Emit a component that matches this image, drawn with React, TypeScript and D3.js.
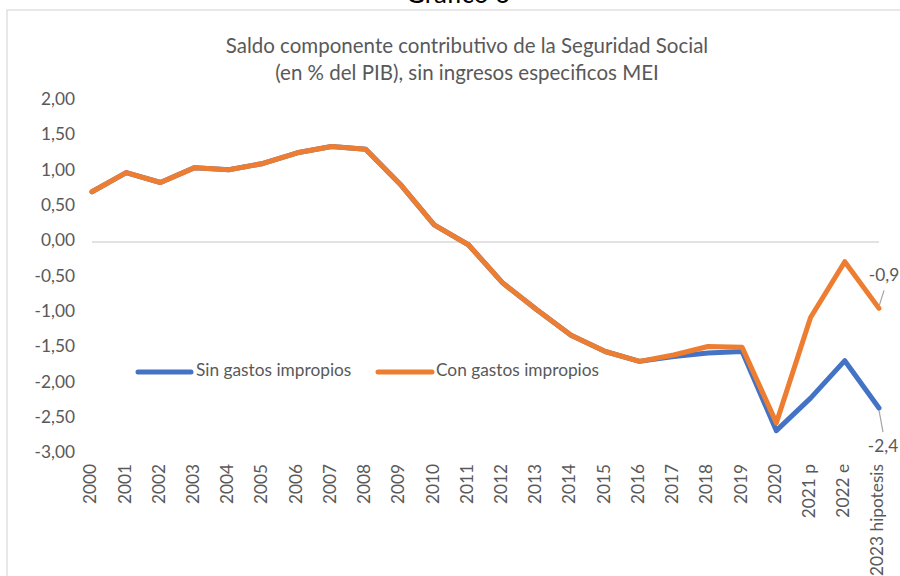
import React from "react";
import * as d3 from "d3";

const categories = ["2000","2001","2002","2003","2004","2005","2006","2007","2008","2009","2010","2011","2012","2013","2014","2015","2016","2017","2018","2019","2020","2021 p","2022 e","2023 hipotesis"];
const sinGastos = [0.71,0.98,0.84,1.05,1.02,1.11,1.26,1.35,1.31,0.82,0.24,-0.04,-0.58,-0.96,-1.32,-1.55,-1.69,-1.62,-1.57,-1.55,-2.67,-2.21,-1.68,-2.35];
const conGastos = [0.71,0.98,0.84,1.05,1.02,1.11,1.26,1.35,1.31,0.82,0.24,-0.04,-0.58,-0.96,-1.32,-1.55,-1.69,-1.60,-1.48,-1.49,-2.56,-1.07,-0.28,-0.94];
const yTicks = [2, 1.5, 1, 0.5, 0, -0.5, -1, -1.5, -2, -2.5, -3];
const seriesNames = ["Sin gastos impropios", "Con gastos impropios"];
const titleLines = ["Saldo componente contributivo de la Seguridad Social", "(en % del PIB), sin ingresos especificos MEI"];
const endLabels = ["-2,4", "-0,9"];

const FONT = "Lato, 'Open Sans', sans-serif";
const GREY = "#595959";
const BLUE = "#4472C4";
const ORANGE = "#ED7D31";

export default function App() {
  const W = 900, H = 576;
  const x = d3.scalePoint<string>().domain(categories).range([92, 879]);
  const y = d3.scaleLinear().domain([-3, 2]).range([454, 100.5]);
  const fmt = (v: number) => d3.format(".2f")(v).replace(".", ",").replace("−", "-");
  const line = d3.line<number>()
    .x((_, i) => x(categories[i]) as number)
    .y((d) => y(d));

  const last = categories.length - 1;
  const lx = x(categories[last]) as number;
  const ySin = y(sinGastos[last]);
  const yCon = y(conGastos[last]);
  const fs = 17.3;

  return (
    <svg width={W} height={H} style={{ position: "absolute", left: 0, top: 0, background: "#fff" }} fontFamily={FONT}>
      <rect x={0} y={0} width={W} height={H} fill="#fff" />
      <text x={458} y={3} textAnchor="middle" fontSize={26} fill="#000">Gráfico 6</text>
      <rect x={7} y={10} width={W + 10} height={H + 10} fill="none" stroke="#d9d9d9" strokeWidth={1.2} />
      <text textAnchor="middle" fontSize={20.5} fill={GREY}>
        <tspan x={467} y={53}>{titleLines[0]}</tspan>
        <tspan x={467} y={80}>{titleLines[1]}</tspan>
      </text>
      {yTicks.map((t) => (
        <text key={t} x={75} y={y(t)} textAnchor="end" dominantBaseline="middle" fontSize={fs} fill={GREY}>{fmt(t)}</text>
      ))}
      <line x1={x(categories[0])} x2={lx} y1={y(0)} y2={y(0)} stroke="#d9d9d9" strokeWidth={1.5} />
      {categories.map((c) => (
        <text key={c} transform={`translate(${x(c)},${464}) rotate(-90)`} textAnchor="end" dominantBaseline="middle" fontSize={fs} fill={GREY}>{c}</text>
      ))}
      <path d={line(sinGastos) || ""} fill="none" stroke={BLUE} strokeWidth={5} strokeLinejoin="round" strokeLinecap="round" />
      <path d={line(conGastos) || ""} fill="none" stroke={ORANGE} strokeWidth={5} strokeLinejoin="round" strokeLinecap="round" />
      <line x1={lx} y1={yCon - 2} x2={lx + 5} y2={yCon - 18} stroke="#a6a6a6" strokeWidth={1.2} />
      <text x={lx + 5} y={yCon - 32} textAnchor="middle" dominantBaseline="middle" fontSize={fs} fill={GREY}>{endLabels[1]}</text>
      <line x1={lx} y1={ySin + 2} x2={lx + 4} y2={ySin + 24} stroke="#a6a6a6" strokeWidth={1.2} />
      <text x={lx + 4} y={ySin + 40} textAnchor="middle" dominantBaseline="middle" fontSize={fs} fill={GREY}>{endLabels[0]}</text>
      <g>
        <line x1={138} x2={191} y1={372} y2={372} stroke={BLUE} strokeWidth={5} strokeLinecap="round" />
        <text x={196} y={372} dominantBaseline="middle" fontSize={fs} fill={GREY}>{seriesNames[0]}</text>
        <line x1={378} x2={432} y1={372} y2={372} stroke={ORANGE} strokeWidth={5} strokeLinecap="round" />
        <text x={436} y={372} dominantBaseline="middle" fontSize={fs} fill={GREY}>{seriesNames[1]}</text>
      </g>
    </svg>
  );
}
